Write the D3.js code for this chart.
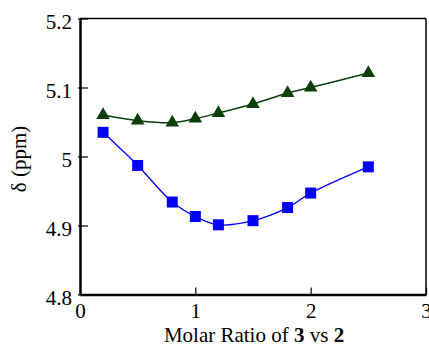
<!DOCTYPE html>
<html><head><meta charset="utf-8">
<script src="https://cdn.jsdelivr.net/npm/d3@7"></script>
<style>body{margin:0;background:#fff}svg{display:block}</style>
</head><body><svg id="c" width="429" height="346"></svg>
<script>
const ratios = [0.2, 0.5, 0.8, 1.0, 1.2, 1.5, 1.8, 2.0, 2.5];
const triangleSeries = [5.060, 5.052, 5.049, 5.055, 5.063, 5.076, 5.092, 5.100, 5.121];
const squareSeries = [5.035, 4.987, 4.934, 4.913, 4.901, 4.907, 4.926, 4.947, 4.985];
const xTicks = [0, 1, 2, 3];
const yTicks = [4.8, 4.9, 5.0, 5.1, 5.2];
const yTickLabels = ["4.8", "4.9", "5", "5.1", "5.2"];

const FONT = "Liberation Serif";
const svg = d3.select("#c");
const x = d3.scaleLinear().domain([0, 3]).range([80, 426]);
const y = d3.scaleLinear().domain([4.8, 5.2]).range([294.5, 18.5]);

svg.append("line").attr("x1", x(0)).attr("x2", x(3)).attr("y1", y(5.2)).attr("y2", y(5.2)).attr("stroke", "#000").attr("stroke-width", 1.5);
svg.append("line").attr("x1", x(3)).attr("x2", x(3)).attr("y1", y(5.2)).attr("y2", y(4.8)).attr("stroke", "#000").attr("stroke-width", 1.5);

const fs = 21;
const xAxis = d3.axisBottom(x).tickValues(xTicks).tickFormat(d3.format("d")).tickSizeInner(-7).tickSizeOuter(0).tickPadding(9);
const gx = svg.append("g").attr("transform", `translate(0,${y(4.8)})`).call(xAxis);
gx.select(".domain").attr("stroke-width", 2.5);
gx.selectAll(".tick line").attr("stroke-width", 1.2);
gx.selectAll(".tick text").attr("font-family", FONT).attr("font-size", fs).style("font-family", FONT);

const yAxis = d3.axisLeft(y).tickValues(yTicks).tickFormat((d, i) => yTickLabels[i]).tickSizeInner(-8).tickSizeOuter(0).tickPadding(8);
const gy = svg.append("g").attr("transform", `translate(${x(0)},0)`).call(yAxis);
gy.select(".domain").attr("stroke-width", 2.5);
gy.selectAll(".tick line").attr("stroke-width", 1.2).attr("x1", -2);
gy.selectAll(".tick text").attr("y", 3).attr("font-family", FONT).attr("font-size", fs).style("font-family", FONT);

const xt = svg.append("text").attr("x", (x(0) + x(3)) / 2 + 1).attr("y", 342).attr("text-anchor", "middle").attr("font-size", fs).attr("font-family", FONT);
xt.append("tspan").text("Molar Ratio of ");
xt.append("tspan").attr("font-weight", "bold").text("3");
xt.append("tspan").text(" vs ");
xt.append("tspan").attr("font-weight", "bold").text("2");

svg.append("text").attr("transform", `translate(26,159) rotate(-90)`).attr("text-anchor", "middle").attr("font-size", fs).attr("font-family", FONT).text("δ (ppm)");

const line = d3.line().x((d, i) => x(ratios[i])).y(d => y(d)).curve(d3.curveCatmullRom.alpha(0.5));

const green = "#0a3f0a", blue = "#0000ff";
svg.append("path").attr("d", line(triangleSeries)).attr("fill", "none").attr("stroke", green).attr("stroke-width", 1.5);
svg.append("path").attr("d", line(squareSeries)).attr("fill", "none").attr("stroke", blue).attr("stroke-width", 1.3);

const tri = d3.symbol().type(d3.symbolTriangle).size(80);
svg.selectAll(".tri").data(triangleSeries).enter().append("path")
  .attr("transform", (d, i) => `translate(${x(ratios[i])},${y(d)})`).attr("d", tri).attr("fill", green);
const s = 11;
svg.selectAll(".sq").data(squareSeries).enter().append("rect")
  .attr("x", (d, i) => x(ratios[i]) - s / 2).attr("y", d => y(d) - s / 2).attr("width", s).attr("height", s).attr("fill", blue);
</script></body></html>
